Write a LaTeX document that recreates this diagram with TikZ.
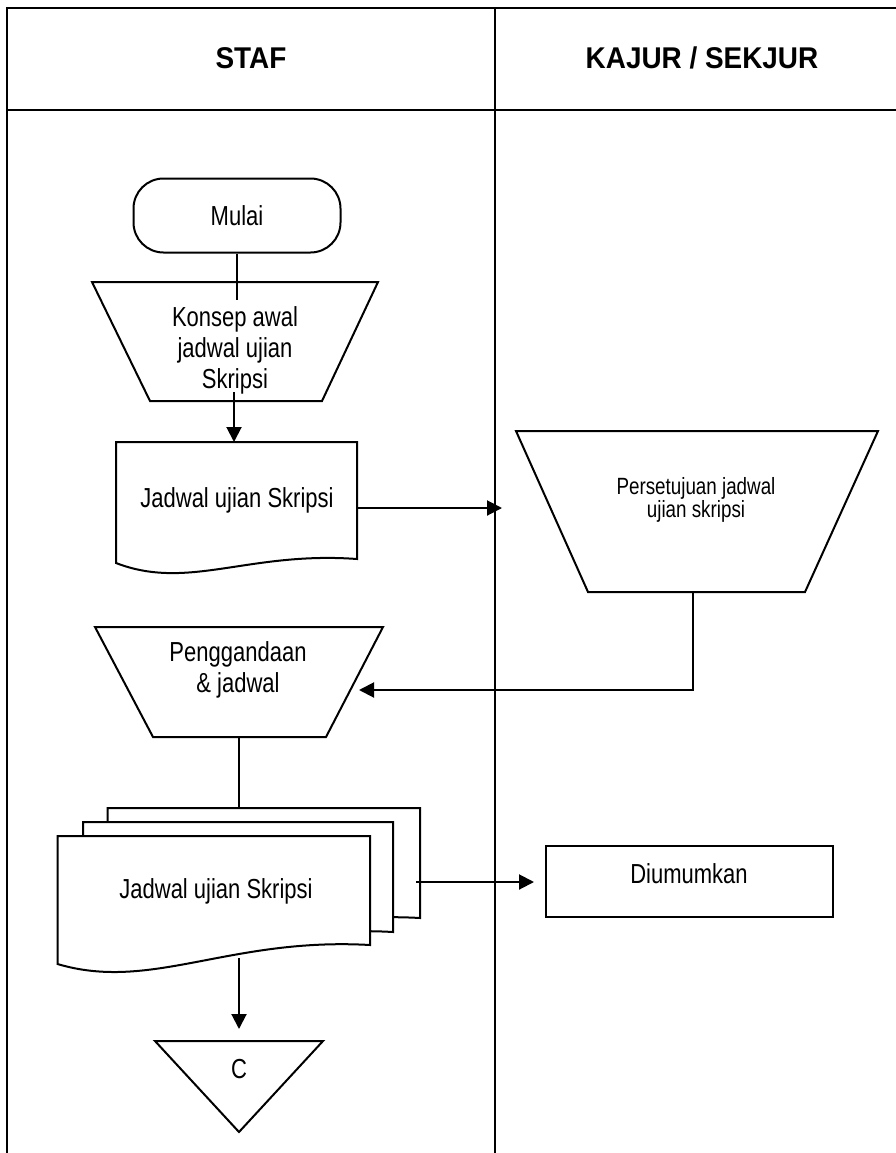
\documentclass[tikz,border=0pt]{standalone}
\usepackage{fontspec}
\setmainfont{Liberation Sans}[FakeStretch=0.8]
\newfontfamily\headfont{Liberation Sans}[FakeStretch=0.93]
\usetikzlibrary{positioning,arrows.meta}
\newcommand{\bodysize}{\fontsize{27.5}{31}\selectfont}
\newcommand{\smallsize}{\fontsize{23.5}{21}\selectfont}
\newcommand{\headsize}{\headfont\bfseries\fontsize{30}{34}\selectfont}
% document symbol: left, right, top, bottom-left, bottom-right
\newcommand{\docshape}[5]{\draw [sym] (#1,#3) -- (#2,#3) -- (#2,#5)
  .. controls ({#1+0.55*(#2-#1)},{#5-8}) and ({#1+0.3*(#2-#1)},{#4+28}) .. (#1,#4) -- cycle;}
\tikzstyle{lane} = [line width=2pt]
\tikzstyle{head} = [font=\headsize]
\tikzstyle{sym} = [draw, fill=white, line join=miter]
\tikzstyle{term} = [sym, rectangle, rounded corners=30pt, minimum width=207pt, minimum height=74pt]
\tikzstyle{box} = [sym, rectangle, minimum width=287pt, minimum height=71pt, text height=20pt, text depth=17pt]
\tikzstyle{txt} = [align=center, inner sep=0pt]
\tikzstyle{link} = []
\tikzstyle{flow} = [-{Triangle[length=15pt,width=15pt]}]

\begin{document}
\begin{tikzpicture}[x=1pt, y=-1pt, line width=2pt, font=\bodysize]
  \useasboundingbox (0,0) rectangle (896,1153);
  % lanes
  \draw [lane] (7,1153) -- (7,8) -- (896,8);
  \draw [lane] (7,110) -- (896,110);
  \draw [lane] (495,8) -- (495,1153);
  \node (staf) [head] at (251,58) {STAF};
  \node (kajur) [head] at (702,58) {KAJUR / SEKJUR};

  % staf
  \node (mulai) [term] at (237,215.5) {Mulai};
  \draw [sym] (92,282) -- (378,282) -- (322,401) -- (150,401) -- cycle;
  \node (konsep) [txt] at (235,350) {Konsep awal\\jadwal ujian\\Skripsi};
  \coordinate (konsep-in) at (237,300);
  \draw [link] (mulai.south) -- (konsep-in);

  \docshape{116}{357}{442}{563}{559}
  \node (jadwal) [txt] at (237,500) {Jadwal ujian Skripsi};
  \coordinate (konsep-out) at (234,392);
  \coordinate (jadwal-in) at (234,442);
  \draw [flow] (konsep-out) -- (jadwal-in);

  % kajur / sekjur
  \draw [sym] (516,431) -- (878,431) -- (805,592) -- (588,592) -- cycle;
  \node (setuju) [txt, font=\smallsize] at (696,500) {Persetujuan jadwal\\ujian skripsi};
  \coordinate (jadwal-out) at (357,508);
  \coordinate (setuju-in) at (502,508);
  \draw [flow] (jadwal-out) -- (setuju-in);

  \draw [sym] (95,627) -- (383,627) -- (326,737) -- (153,737) -- cycle;
  \node (ganda) [txt] at (238,670) {Penggandaan\\\& jadwal};
  \coordinate (setuju-out) at (693,592);
  \coordinate (ganda-in) at (359,690);
  \draw [flow] (setuju-out) |- (ganda-in);

  % salinan jadwal
  \docshape{107.5}{420}{808}{937}{918}
  \docshape{83}{393}{822}{951}{932}
  \docshape{57.5}{370}{836}{964}{945}
  \node (salinan) [txt] at (216,891) {Jadwal ujian Skripsi};
  \coordinate (ganda-out) at (239,737);
  \coordinate (salinan-in) at (239,808);
  \draw [link] (ganda-out) -- (salinan-in);

  \node (umum) [box] at (689,881.5) {Diumumkan};
  \coordinate (salinan-out) at (416,882);
  \coordinate (umum-in) at (534,882);
  \draw [flow] (salinan-out) -- (umum-in);

  \draw [sym] (155,1041) -- (323,1041) -- (239,1132) -- cycle;
  \node (c) [txt] at (239,1069) {C};
  \coordinate (salinan-down) at (239,958);
  \coordinate (c-in) at (239,1029);
  \draw [flow] (salinan-down) -- (c-in);
\end{tikzpicture}
\end{document}
